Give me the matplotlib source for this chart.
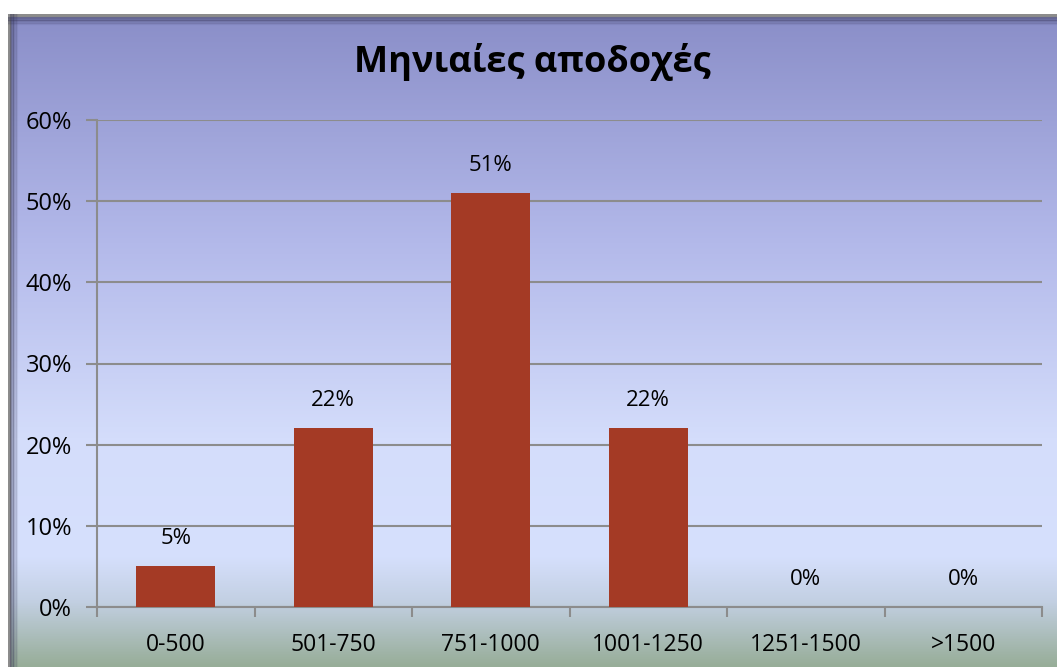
import numpy as np
import matplotlib.pyplot as plt
from matplotlib.colors import LinearSegmentedColormap
from matplotlib.ticker import FuncFormatter

categories = ["0-500", "501-750", "751-1000", "1001-1250", "1251-1500", ">1500"]
values = [5, 22, 51, 22, 0, 0]
title = "Μηνιαίες αποδοχές"

plt.rcParams['font.family'] = ['Open Sans', 'DejaVu Sans']

W, H = 1057, 667
fig = plt.figure(figsize=(W / 100, H / 100), dpi=100)
fig.patch.set_facecolor("white")

# background panel with vertical gradient
bg = fig.add_axes([8 / W, 0, 1 - 8 / W, 1 - 14 / H])
bg.set_axis_off()
cmap = LinearSegmentedColormap.from_list("bg", [
    (0.00, "#8a8ec8"),
    (0.35, "#b3b9ea"),
    (0.65, "#d4ddfb"),
    (0.83, "#d6e0fd"),
    (0.90, "#c3d0e3"),
    (1.00, "#97ad98"),
])
grad = np.linspace(0, 1, 256).reshape(-1, 1)
bg.imshow(grad, aspect="auto", cmap=cmap, extent=[0, 1, 1, 0])
bg.set_xlim(0, 1)
bg.set_ylim(1, 0)
# border + thin inner shadow on top/left
bg.axhline(0.002, color="#8c8c8c", lw=2.5)
bg.axvline(0.001, color="#8c8c8c", lw=2.5)
for i, a in enumerate(np.linspace(0.4, 0.0, 6)):
    bg.axhline(0.006 + i * 0.0025, color="#303050", lw=1.5, alpha=a)
    bg.axvline(0.003 + i * 0.0015, color="#303050", lw=1.5, alpha=a)

ax = fig.add_axes([97 / W, 1 - 607 / H, 945 / W, 487 / H])
ax.patch.set_alpha(0)
x = np.arange(len(categories))
bars = ax.bar(x, values, width=0.5, color="#a43a25", zorder=3)
for xi, v in zip(x, values):
    ax.annotate(f"{v}%", (xi, v), xytext=(0, 20), textcoords="offset points",
                ha="center", va="center", fontsize=16)

ax.set_xlim(-0.5, len(categories) - 0.5)
ax.set_ylim(0, 60)
ax.set_yticks(range(0, 61, 10))
ax.yaxis.set_major_formatter(FuncFormatter(lambda v, p: f"{v:.0f}%"))
ax.grid(axis="y", color="#8c8c8c", lw=1.5, zorder=1)
ax.set_xticks(x)
ax.set_xticklabels(categories)
ax.set_xticks(np.arange(-0.5, len(categories)), minor=True)
ax.tick_params(axis="x", which="major", length=0, labelsize=16.5, pad=19)
ax.tick_params(axis="x", which="minor", length=7, width=1.5, color="#8c8c8c")
ax.tick_params(axis="y", length=8, width=1.5, color="#8c8c8c", labelsize=17, pad=10)
for s in ["top", "right"]:
    ax.spines[s].set_visible(False)
for s in ["left", "bottom"]:
    ax.spines[s].set_color("#8c8c8c")
    ax.spines[s].set_linewidth(1.5)

fig.text(0.5 + 4 / W, 1 - 62 / H, title, ha="center", va="center",
         fontsize=26, fontweight="bold")

fig.savefig("out.png", dpi=100)
